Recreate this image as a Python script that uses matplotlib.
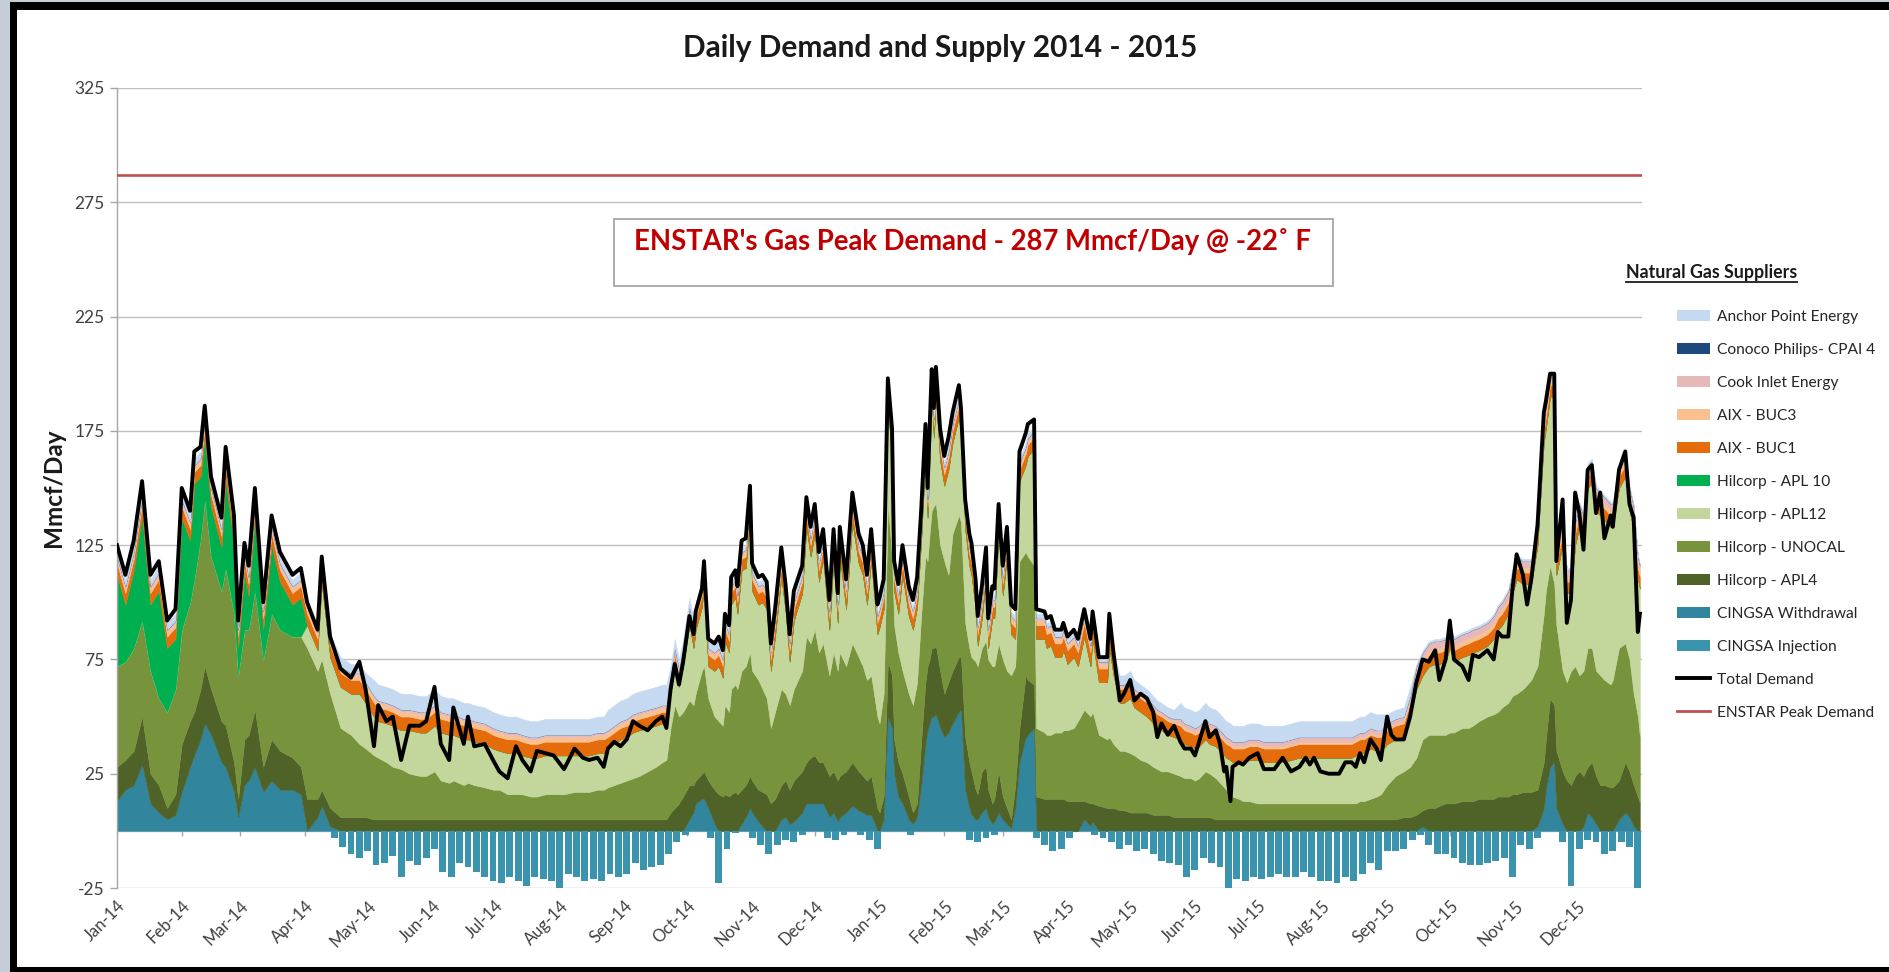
import numpy as np
import pandas as pd
import matplotlib
matplotlib.use("Agg")
import matplotlib.pyplot as plt
from matplotlib.patches import Patch, Rectangle
from matplotlib.lines import Line2D

plt.rcParams['font.family'] = ['Lato', 'DejaVu Sans']
plt.rcParams['axes.unicode_minus'] = False

# ---------------- data ----------------
START = "2014-01-01"

# days since 2014-01-01 of each sampled point
day_index = [
    0, 4, 8, 12, 16, 20, 24, 28, 31, 35, 37, 40, 42, 45, 50, 52, 56, 58, 61, 63, 66, 70, 74, 78, 84, 88,
    91, 96, 98, 102,
    107, 112, 116, 119,
    123, 125, 129, 132, 136, 140, 145, 148, 152, 155, 159, 161, 166, 168, 171, 176, 180, 183,
    187, 191, 194, 198, 201, 205, 209, 214, 219, 223, 226, 230, 233,
    235, 238, 241, 244, 247, 250, 254, 258, 261, 263,
    265, 267, 269, 271, 274, 276, 277, 280, 281, 283, 286, 288, 290, 291, 293,
    294, 296, 297, 299, 301, 303, 304, 307, 309, 311, 313, 315, 318, 320, 322, 324, 328, 330, 332, 334,
    336, 338, 341, 343, 345, 346, 349, 352, 355, 357, 359, 361, 364, 365, 367, 369, 371, 372,
    374, 376, 379, 381, 383, 385, 387, 388, 389, 390, 391, 392, 394, 396, 398, 400, 403, 404, 406, 408,
    409, 411, 412, 414, 416, 417, 419, 420, 422, 424, 426, 428, 430, 432, 435, 436, 439,
    440, 444, 445, 447, 449, 452, 453, 455, 458, 460, 463, 466, 467, 470, 474, 475, 477,
    480, 482, 485, 487, 490, 493, 496, 498, 500, 503, 506,
    509, 511, 514, 516, 518, 521, 523, 526, 528, 530, 531, 533, 534, 537, 539, 542, 546, 549, 554, 558, 562,
    566, 569, 571, 573, 576, 580, 585, 588, 591, 593, 595, 597, 600, 603, 605,
    608, 610, 612, 616, 619,
    622, 625, 628, 631, 633, 636, 638, 640, 644, 647, 649, 652, 656, 659, 661, 663, 666, 668, 670, 673,
    675, 677, 680, 683, 684, 686, 688, 689, 692, 694, 696, 698, 700, 702, 704, 706, 708, 710, 712, 715,
    716, 719, 722, 724, 726, 728, 729,
]

total_demand = [
    125, 112, 127, 153, 112, 118, 92, 97, 150, 140, 166, 168, 186, 155, 137, 168, 138, 92, 126, 116, 150, 100, 138, 122, 112, 115,
    100, 88, 120, 85,
    71, 67, 74, 62,
    37, 55, 48, 50, 31, 46, 46, 48, 63, 38, 31, 54, 38, 50, 37, 38, 31, 26,
    23, 37, 31, 26, 35, 34, 33, 27, 36, 32, 31, 32, 28,
    36, 39, 37, 40, 48, 46, 44, 48, 50, 45,
    62, 73, 64, 74, 94, 86, 96, 106, 118, 84, 82, 85, 79, 95, 90,
    111, 114, 107, 127, 128, 151, 117, 111, 112, 109, 82, 97, 124, 108, 86, 105, 116, 146, 133, 143,
    122, 132, 101, 132, 104, 133, 110, 148, 130, 125, 112, 132, 99, 102, 110, 198, 176, 118,
    108, 125, 107, 101, 111, 141, 178, 150, 176, 202, 185, 203, 176, 164, 172, 183, 195, 185, 145, 130,
    126, 110, 94, 107, 124, 93, 107, 106, 143, 116, 133, 99, 97, 166, 174, 178, 180,
    97, 96, 93, 94, 88, 88, 91, 85, 88, 84, 97, 84, 96, 76, 76, 95, 78,
    57, 60, 66, 57, 60, 58, 52, 41, 47, 42, 46,
    39, 36, 36, 33, 39, 48, 41, 44, 38, 26, 28, 13, 28, 30, 29, 32, 34, 27, 27, 32, 26,
    28, 32, 29, 32, 26, 25, 25, 30, 30, 28, 34, 30, 40, 36, 31,
    50, 42, 40, 40, 50,
    65, 75, 74, 79, 66, 75, 92, 75, 72, 66, 77, 76, 79, 75, 87, 85, 85, 106, 121, 112,
    99, 110, 134, 183, 188, 200, 200, 118, 145, 91, 101, 148, 139, 123, 158, 160, 139, 148, 128, 138,
    133, 158, 166, 143, 137, 87, 95,
]

cingsa_withdrawal = [
    13, 18, 20, 29, 12, 8, 5, 7, 17, 28, 33, 40, 47, 42, 30, 28, 17, 6, 20, 22, 28, 17, 22, 18, 18, 16,
    0, 6, 11, 2,
    0, 0, 0, 0,
    0, 0, 0, 0, 0, 0, 0, 0, 0, 0, 0, 0, 0, 0, 0, 0, 0, 0,
    0, 0, 0, 0, 0, 0, 0, 0, 0, 0, 0, 0, 0,
    0, 0, 0, 0, 0, 0, 0, 0, 0, 0,
    0, 0, 0, 0, 5, 8, 12, 14, 14, 10, 3, 0, 0, 0, 0,
    0, 0, 0, 3, 6, 10, 8, 4, 2, 0, 0, 0, 5, 6, 3, 4, 8, 12, 12, 12,
    12, 12, 6, 8, 4, 6, 8, 11, 9, 8, 7, 7, 0, 0, 5, 50, 45, 25,
    15, 12, 5, 3, 6, 20, 38, 44, 47, 50, 50, 51, 45, 41, 43, 47, 52, 53, 18, 10,
    7, 5, 5, 8, 10, 6, 3, 4, 8, 5, 3, 1, 10, 30, 41, 42, 45,
    0, 0, 0, 0, 0, 0, 0, 0, 0, 0, 5, 2, 4, 0, 0, 0, 0,
    0, 0, 0, 0, 0, 0, 0, 0, 0, 0, 0,
    0, 0, 0, 0, 0, 0, 0, 0, 0, 0, 0, 0, 0, 0, 0, 0, 0, 0, 0, 0, 0,
    0, 0, 0, 0, 0, 0, 0, 0, 0, 0, 0, 0, 0, 0, 0,
    0, 0, 0, 0, 0,
    0, 2, 0, 0, 0, 0, 0, 0, 0, 0, 0, 0, 0, 0, 0, 0, 0, 0, 0, 0,
    0, 0, 2, 10, 18, 28, 30, 10, 3, 0, 0, 0, 0, 2, 8, 6, 3, 0, 0, 0,
    0, 5, 8, 6, 2, 0, 0,
]

hilcorp_apl4 = [
    15, 13, 15, 21, 13, 12, 5, 9, 21, 20, 19, 22, 25, 20, 18, 18, 13, 8, 20, 20, 25, 11, 18, 17, 14, 12,
    14, 8, 7, 8,
    6, 6, 6, 6,
    5, 5, 5, 5, 5, 5, 5, 5, 5, 5, 5, 5, 5, 5, 5, 5, 5, 5,
    5, 5, 5, 5, 5, 5, 5, 5, 5, 5, 5, 5, 5,
    5, 5, 5, 5, 5, 5, 5, 5, 5, 5,
    8, 10, 12, 15, 15, 12, 10, 11, 12, 12, 15, 16, 15, 16, 15,
    16, 17, 16, 15, 14, 14, 14, 14, 15, 16, 12, 14, 15, 16, 15, 18, 18, 18, 20, 21,
    18, 18, 18, 18, 18, 18, 18, 19, 17, 16, 15, 17, 10, 8, 10, 24, 23, 15,
    15, 13, 10, 5, 6, 20, 27, 28, 28, 30, 30, 30, 25, 19, 22, 23, 24, 23, 23, 20,
    19, 13, 11, 18, 18, 12, 9, 10, 18, 10, 7, 4, 10, 15, 27, 24, 19,
    15, 14, 14, 14, 14, 14, 14, 13, 13, 13, 8, 10, 8, 11, 10, 10, 10,
    9, 9, 8, 8, 8, 8, 7, 7, 7, 7, 6,
    6, 6, 6, 6, 6, 6, 6, 5, 5, 5, 5, 5, 5, 5, 5, 5, 5, 5, 5, 5, 5,
    5, 5, 5, 5, 5, 5, 5, 5, 5, 5, 5, 5, 5, 5, 5,
    5, 5, 5, 6, 6,
    7, 7, 10, 10, 11, 12, 12, 12, 13, 13, 13, 14, 14, 14, 15, 15, 15, 16, 16, 17,
    17, 17, 16, 20, 22, 30, 25, 25, 23, 22, 20, 24, 26, 22, 20, 24, 21, 20, 20, 19,
    19, 17, 22, 20, 18, 15, 12,
]

hilcorp_unocal = [
    44, 43, 45, 42, 45, 38, 42, 46, 50, 52, 58, 66, 73, 58, 57, 69, 65, 54, 48, 46, 52, 47, 55, 53, 53, 57,
    66, 56, 57, 50,
    39, 36, 32, 30,
    28, 27, 25, 23, 22, 20, 19, 19, 21, 17, 16, 17, 15, 16, 15, 14, 13, 13,
    11, 11, 11, 10, 10, 11, 11, 11, 12, 12, 12, 13, 13,
    14, 15, 16, 17, 18, 19, 21, 23, 25, 26,
    37, 45, 38, 37, 37, 35, 38, 45, 46, 36, 32, 32, 31, 39, 37,
    46, 47, 46, 52, 52, 54, 48, 48, 45, 42, 33, 38, 42, 38, 37, 40, 44, 55, 50, 55,
    48, 52, 44, 52, 48, 54, 46, 52, 50, 48, 44, 44, 40, 39, 45, 69, 52, 50,
    48, 45, 45, 47, 53, 55, 55, 46, 55, 60, 62, 62, 55, 58, 47, 60, 62, 59, 50, 50,
    50, 56, 56, 54, 55, 57, 60, 58, 56, 60, 60, 63, 52, 73, 54, 54, 52,
    30, 29, 28, 28, 29, 29, 30, 31, 32, 35, 40, 38, 40, 31, 30, 31, 28,
    26, 26, 26, 25, 23, 22, 21, 20, 19, 19, 19,
    18, 17, 17, 16, 17, 20, 19, 18, 16, 14, 13, 11, 10, 9, 8, 8, 7, 7, 7, 7, 7,
    7, 7, 7, 7, 7, 7, 7, 7, 7, 7, 8, 8, 9, 10, 11,
    15, 17, 19, 20, 22,
    25, 31, 32, 32, 31, 30, 31, 31, 32, 32, 33, 34, 36, 37, 37, 39, 41, 43, 44, 45,
    47, 49, 54, 65, 65, 58, 53, 55, 44, 43, 50, 48, 42, 46, 52, 50, 46, 48, 46, 45,
    47, 58, 52, 49, 40, 35, 29,
]

hilcorp_apl12 = [
    0, 0, 0, 0, 0, 0, 0, 0, 0, 0, 0, 0, 0, 0, 0, 0, 0, 0, 0, 0, 0, 0, 0, 0, 0, 0,
    10, 9, 33, 16,
    18, 18, 22, 20,
    17, 16, 17, 18, 17, 19, 19, 19, 20, 21, 21, 20, 20, 19, 19, 19, 18, 17,
    18, 18, 17, 17, 17, 17, 17, 17, 16, 16, 16, 16, 16,
    17, 18, 19, 19, 20, 20, 19, 18, 17, 16,
    15, 17, 13, 20, 33, 25, 28, 28, 36, 14, 20, 24, 21, 28, 26,
    37, 38, 33, 44, 43, 60, 35, 33, 38, 39, 25, 33, 49, 36, 19, 30, 34, 48, 38, 42,
    31, 37, 20, 41, 21, 42, 25, 53, 41, 40, 33, 50, 36, 42, 37, 42, 43, 15,
    17, 42, 34, 33, 33, 33, 44, 19, 32, 48, 30, 46, 37, 33, 46, 40, 43, 37, 41, 36,
    36, 23, 9, 13, 28, 5, 21, 21, 48, 28, 50, 18, 12, 35, 38, 44, 51,
    39, 41, 38, 39, 33, 33, 35, 29, 31, 24, 32, 22, 32, 23, 25, 39, 30,
    21, 21, 24, 21, 21, 20, 19, 18, 18, 16, 16,
    16, 15, 14, 14, 14, 14, 13, 14, 14, 14, 14, 15, 15, 16, 17, 18, 19, 18, 18, 18, 19,
    20, 20, 20, 20, 20, 20, 20, 20, 20, 21, 21, 21, 22, 20, 19,
    18, 17, 16, 15, 22,
    30, 28, 30, 31, 31, 32, 37, 31, 31, 32, 32, 31, 31, 33, 36, 36, 39, 45, 50, 46,
    44, 42, 53, 75, 71, 74, 82, 22, 55, 39, 34, 53, 65, 58, 70, 72, 70, 70, 70, 69,
    67, 70, 73, 65, 72, 60, 65,
]

# Hilcorp APL 10 only delivered Jan-Mar 2014 (first 26 sampled dates); zero afterwards
hilcorp_apl10_2014q1 = [
    40, 25, 34, 46, 29, 47, 28, 22, 49, 27, 42, 27, 27, 22, 19, 39, 30, 12, 25, 15, 32, 13, 30, 21, 14, 17,
]

# small suppliers: roughly constant band thickness per season (season start day -> value)
season_start_day = [0, 91, 107, 123, 235, 265, 294, 440, 480, 509, 608, 622]
aix_buc1_season = [5, 5, 6, 6, 5, 5, 5, 6, 6, 6, 6, 5]
aix_buc3_season = [2, 2, 2, 2, 2, 2, 2, 2, 1, 1, 1, 2]
cook_inlet_season = [1, 1, 1, 1, 1, 1, 1, 1, 1, 2, 2, 3]
conoco_cpai4_season = [0, 0, 0, 0, 0, 0, 0, 0, 0, 0, 0, 0]
anchor_point_season = [3, 2, 4, 7, 9, 4, 2, 2, 4, 7, 4, 1]

# CINGSA injection (negative), one value every 4 days from 2014-01-01
injection_step_days = 4
cingsa_injection = [
    0, 0, 0, 0, 0, 0, 0, 0, 0, 0, 0, 0, 0, 0, 0, 0, 0, 0, 0, 0, 0, 0, 0, 0, 0, 0,
    -3, -7, -10, -12, -9, -15, -14, -11, -20, -13,
    -15, -12, -8, -18, -20, -14, -16, -18, -20, -22,
    -23, -20, -22, -24, -20, -21, -22, -25, -19, -20,
    -22, -21, -22, -19, -20, -19, -14, -17, -16, -15,
    -10, -5, -2, 0, 0, -3, -23, -8, -1, 0,
    -3, -6, -10, -6, -4, -5, -2, 0, 0, -3,
    -4, -2, 0, -2, -4, -8, 0, 0, 0, -2,
    0, 0, 0, 0, 0, 0, -4, -5, -3, -2,
    0, 0, 0, 0, -3, -6, -9, -8, -3, 0,
    0, -2, -3, -5, -8, -6, -9, -8, -10, -13,
    -14, -15, -20, -17, -12, -14, -16, -25, -21, -22,
    -20, -21, -20, -19, -20, -20, -18, -20, -22, -22,
    -23, -20, -22, -19, -14, -17, -9, -9, -8, -4,
    -2, -6, -10, -10, -12, -14, -15, -15, -14, -13,
    -12, -20, -6, -8, -3, 0, 0, -5, -24, -8,
    -4, -5, -10, -9, -5, -7, -25,
]

enstar_peak_demand = 287

month_labels = ['Jan-14', 'Feb-14', 'Mar-14', 'Apr-14', 'May-14', 'Jun-14', 'Jul-14', 'Aug-14',
                'Sep-14', 'Oct-14', 'Nov-14', 'Dec-14', 'Jan-15', 'Feb-15', 'Mar-15', 'Apr-15',
                'May-15', 'Jun-15', 'Jul-15', 'Aug-15', 'Sep-15', 'Oct-15', 'Nov-15', 'Dec-15']

y_ticks = [-25, 25, 75, 125, 175, 225, 275, 325]

# ---------------- preparation ----------------
start = pd.Timestamp(START)
x = (start + pd.to_timedelta(day_index, unit="D")).values
n = len(day_index)

season_idx = np.searchsorted(season_start_day, day_index, side='right') - 1
buc1 = np.array(aix_buc1_season)[season_idx]
buc3 = np.array(aix_buc3_season)[season_idx]
cook = np.array(cook_inlet_season)[season_idx]
cpai = np.array(conoco_cpai4_season)[season_idx]
anchor = np.array(anchor_point_season)[season_idx]
apl10 = np.zeros(n)
apl10[:len(hilcorp_apl10_2014q1)] = hilcorp_apl10_2014q1

inj_x = (start + pd.to_timedelta(np.arange(len(cingsa_injection)) * injection_step_days, unit="D")).values

months = pd.date_range(START, periods=len(month_labels), freq="MS")

# colours
C = {
    'anchor': '#C5D9F1', 'cpai': '#1F497D', 'cook': '#E6B9B8', 'buc3': '#FAC090',
    'buc1': '#E46C0A', 'apl10': '#00B050', 'apl12': '#C3D69B', 'unocal': '#77933C',
    'apl4': '#4F6228', 'withdraw': '#31859C', 'inject': '#3A94AE',
    'demand': '#000000', 'peak': '#C0504D',
}

# ---------------- figure ----------------
W_PX, H_PX = 1890, 972
fig = plt.figure(figsize=(W_PX / 100, H_PX / 100), dpi=100)
fig.patch.set_facecolor('#C5CDD9')
# black frame and white sheet
fig.patches.append(Rectangle((10 / W_PX, 0), 1 - 10 / W_PX, 1 - 2 / H_PX,
                             transform=fig.transFigure, facecolor='black', edgecolor='none', zorder=-5))
fig.patches.append(Rectangle((17 / W_PX, 5 / H_PX), 1 - 17 / W_PX, (H_PX - 10 - 5) / H_PX,
                             transform=fig.transFigure, facecolor='white', edgecolor='none', zorder=-4))

ax = fig.add_axes([117 / W_PX, 84 / H_PX, (1642 - 117) / W_PX, (888 - 88) / H_PX])
ax.set_facecolor('none')

ax.set_ylim(-25, 325)
ax.set_xlim(np.datetime64('2014-01-01'), np.datetime64('2016-01-01'))
ax.set_yticks(y_ticks)
ax.grid(axis='y', color='#BFBFBF', lw=1.0, zorder=0)
ax.set_axisbelow(True)

# axis line at zero with month tick marks
ax.axhline(0, color='#BFBFBF', lw=1.0, zorder=0.5)
ax.vlines(months, -2.2, 0, colors='#A6A6A6', lw=1.0, zorder=0.6)

polys = ax.stackplot(
    x, cingsa_withdrawal, hilcorp_apl4, hilcorp_unocal, hilcorp_apl12, apl10,
    buc1, buc3, cook, cpai, anchor,
    colors=[C['withdraw'], C['apl4'], C['unocal'], C['apl12'], C['apl10'],
            C['buc1'], C['buc3'], C['cook'], C['cpai'], C['anchor']],
    zorder=2)
for p in polys:
    p.set_edgecolor(p.get_facecolor())
    p.set_linewidth(0.3)

ax.bar(inj_x, cingsa_injection, width=3.3, color=C['inject'], linewidth=0, zorder=2)

ax.axhline(enstar_peak_demand, color=C['peak'], lw=1.9, zorder=3)
ax.plot(x, total_demand, color=C['demand'], lw=2.8, zorder=5, solid_joinstyle='round')

for s in ['top', 'right', 'bottom']:
    ax.spines[s].set_visible(False)
ax.spines['left'].set_color('#A6A6A6')
ax.spines['left'].set_linewidth(1.0)

ax.tick_params(axis='y', length=5, width=1, color='#A6A6A6', pad=4, labelsize=12.5, labelcolor='#404040')
ax.set_xticks(months)
ax.set_xticklabels(month_labels, rotation=45, ha='right', rotation_mode='anchor')
ax.tick_params(axis='x', length=0, pad=7, labelsize=12, labelcolor='#404040')

ax.set_ylabel('Mmcf/Day', fontsize=17.5, fontweight='bold', labelpad=7, color='#1a1a1a')

# title
fig.text(940 / W_PX, 1 - 48 / H_PX, 'Daily Demand and Supply 2014 - 2015', ha='center', va='center',
         fontsize=21.5, fontweight='bold', color='#1a1a1a')

# annotation box
fig.patches.append(Rectangle((614 / W_PX, 1 - 286 / H_PX), (1333 - 614) / W_PX, (286 - 219) / H_PX,
                             transform=fig.transFigure, facecolor='white', edgecolor='#A6A6A6',
                             lw=1.3, zorder=3))
fig.text(634 / W_PX, 1 - 241 / H_PX, "ENSTAR's Gas Peak Demand - 287 Mmcf/Day @ -22\u02da F",
         ha='left', va='center', fontsize=19.8, fontweight='bold', color='#C00000', zorder=4)

# legend
handles = [
    Patch(facecolor=C['anchor'], edgecolor='none'),
    Patch(facecolor=C['cpai'], edgecolor='none'),
    Patch(facecolor=C['cook'], edgecolor='none'),
    Patch(facecolor=C['buc3'], edgecolor='none'),
    Patch(facecolor=C['buc1'], edgecolor='none'),
    Patch(facecolor=C['apl10'], edgecolor='none'),
    Patch(facecolor=C['apl12'], edgecolor='none'),
    Patch(facecolor=C['unocal'], edgecolor='none'),
    Patch(facecolor=C['apl4'], edgecolor='none'),
    Patch(facecolor=C['withdraw'], edgecolor='none'),
    Patch(facecolor=C['inject'], edgecolor='none'),
    Line2D([], [], color=C['demand'], lw=2.8),
    Line2D([], [], color=C['peak'], lw=2.0),
]
labels = ['Anchor Point Energy', 'Conoco Philips- CPAI 4', 'Cook Inlet Energy', 'AIX - BUC3',
          'AIX - BUC1', 'Hilcorp - APL 10', 'Hilcorp - APL12', 'Hilcorp - UNOCAL', 'Hilcorp - APL4',
          'CINGSA Withdrawal', 'CINGSA Injection', 'Total Demand', 'ENSTAR Peak Demand']
fig.legend(handles, labels, loc='upper left', bbox_to_anchor=(1677 / W_PX, 1 - 310 / H_PX),
           frameon=False, fontsize=11.2, handlelength=2.1, handleheight=0.65, labelspacing=1.22,
           handletextpad=0.45, borderpad=0, borderaxespad=0, labelcolor='#262626')

lt = fig.text(1626 / W_PX, 1 - 272 / H_PX, 'Natural Gas Suppliers', ha='left', va='center',
              fontsize=12.8, fontweight='bold', color='#1a1a1a')
fig.canvas.draw()
bb = lt.get_window_extent().transformed(fig.transFigure.inverted())
fig.add_artist(Line2D([bb.x0, bb.x1], [bb.y0 - 1 / H_PX, bb.y0 - 1 / H_PX],
                      transform=fig.transFigure, color='#1a1a1a', lw=1.3))

fig.savefig('out.png', dpi=100, facecolor=fig.get_facecolor())
